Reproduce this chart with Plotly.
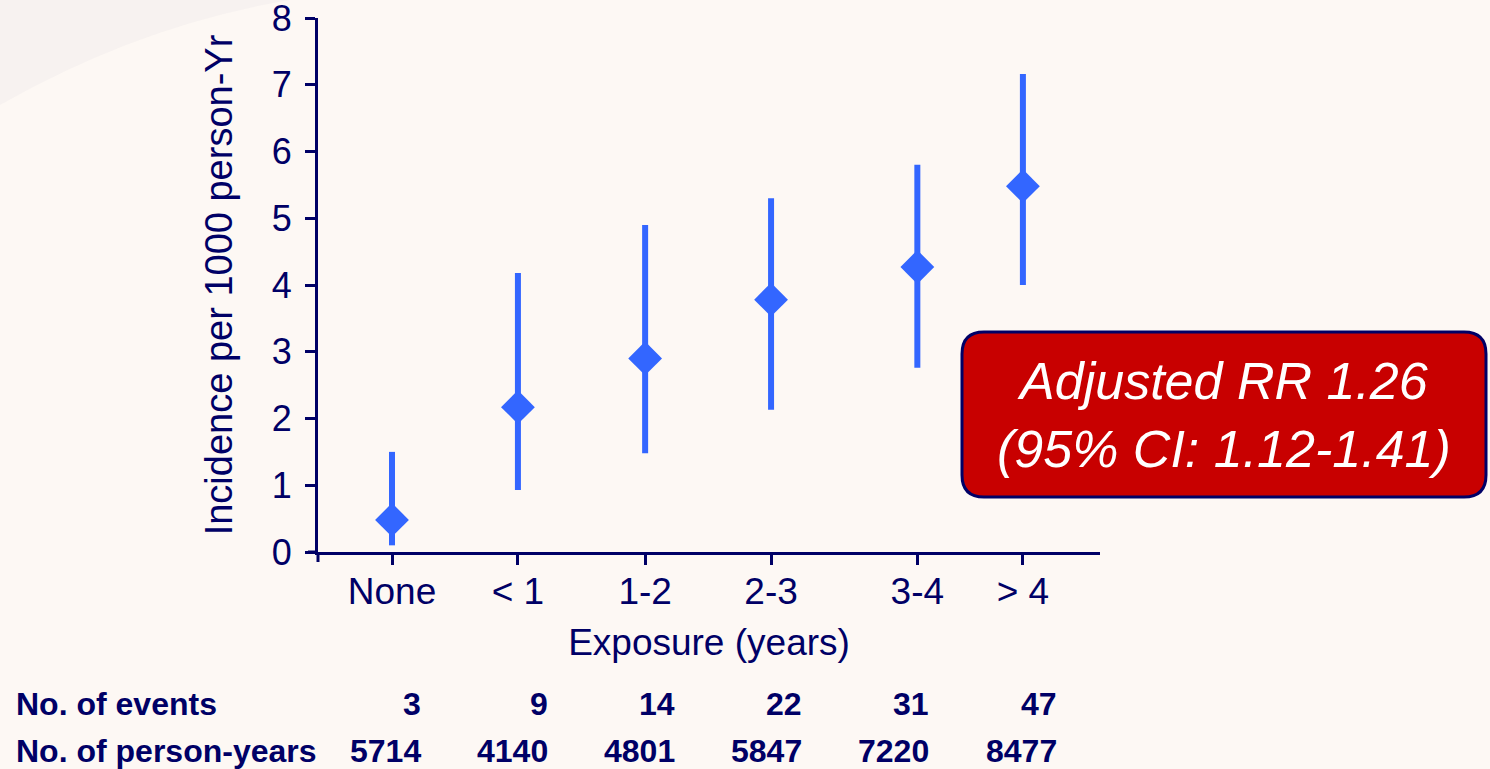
import plotly.graph_objects as go

# ---- data ----
categories = ["None", "< 1", "1-2", "2-3", "3-4", "> 4"]
x_pos = [0, 0.99, 1.99, 2.98, 4.13, 4.96]          # category positions on the exposure axis
incidence = [0.48, 2.17, 2.9, 3.78, 4.27, 5.48]
ci_low = [0.1, 0.93, 1.48, 2.13, 2.76, 4.0]
ci_high = [1.5, 4.18, 4.9, 5.3, 5.8, 7.16]
events = [3, 9, 14, 22, 31, 47]
person_years = [5714, 4140, 4801, 5847, 7220, 8477]
y_ticks = [0, 1, 2, 3, 4, 5, 6, 7, 8]

NAVY = "#000066"
BLUE = "#3366FF"
FONT = "Liberation Sans, Arial, sans-serif"

err_plus = [h - v for h, v in zip(ci_high, incidence)]
err_minus = [v - l for v, l in zip(incidence, ci_low)]

fig = go.Figure()
fig.add_trace(go.Scatter(
    x=x_pos, y=incidence, mode="markers",
    marker=dict(symbol="diamond", size=26, color=BLUE, line=dict(width=0)),
    error_y=dict(type="data", symmetric=False, array=err_plus, arrayminus=err_minus,
                 color=BLUE, thickness=6, width=0),
    cliponaxis=False, showlegend=False, hoverinfo="skip",
))

W, H = 1490, 769
L, R, T, B = 318, 1100, 18, 552
pw, ph = R - L, B - T

def px(xp):
    return (xp - L) / pw

def py(yp):
    return (B - yp) / ph

shapes = []
# faint grey swoosh in the top-left corner of the slide
shapes.append(dict(type="path", xref="paper", yref="paper", layer="below",
                   path=(f"M {px(0)},{py(0)} L {px(290)},{py(0)} "
                         f"Q {px(140)},{py(25)} {px(0)},{py(105)} Z"),
                   fillcolor="rgba(205,205,210,0.12)", line=dict(width=0)))
# axis cross stubs
shapes.append(dict(type="line", xref="paper", yref="paper", x0=px(308), x1=px(318), y0=0, y1=0,
                   line=dict(color=NAVY, width=3)))
shapes.append(dict(type="line", xref="paper", yref="paper", x0=0, x1=0, y0=py(552), y1=py(562),
                   line=dict(color=NAVY, width=3)))

# rounded red box
bx0, bx1, by0, by1 = 962, 1486, 332, 497
r = 22
path = (f"M {px(bx0 + r)},{py(by0)} L {px(bx1 - r)},{py(by0)} "
        f"Q {px(bx1)},{py(by0)} {px(bx1)},{py(by0 + r)} "
        f"L {px(bx1)},{py(by1 - r)} Q {px(bx1)},{py(by1)} {px(bx1 - r)},{py(by1)} "
        f"L {px(bx0 + r)},{py(by1)} Q {px(bx0)},{py(by1)} {px(bx0)},{py(by1 - r)} "
        f"L {px(bx0)},{py(by0 + r)} Q {px(bx0)},{py(by0)} {px(bx0 + r)},{py(by0)} Z")
shapes.append(dict(type="path", xref="paper", yref="paper", path=path,
                   fillcolor="#C80000", line=dict(color=NAVY, width=3)))

annotations = [
    dict(xref="paper", yref="paper", x=px((bx0 + bx1) / 2), y=py((by0 + by1) / 2),
         text="<i>Adjusted RR 1.26<br>(95% CI: 1.12-1.41)</i>", showarrow=False,
         font=dict(family=FONT, size=52, color="white"), align="center",
         xanchor="center", yanchor="middle"),
]

row_y = [py(704), py(751)]
TFONT = dict(family=FONT, size=32, color=NAVY)
annotations.append(dict(xref="paper", yref="paper", x=px(14), y=row_y[0], text="<b>No. of events</b>",
                        showarrow=False, xanchor="left", yanchor="middle", font=TFONT))
annotations.append(dict(xref="paper", yref="paper", x=px(14), y=row_y[1], text="<b>No. of person-years</b>",
                        showarrow=False, xanchor="left", yanchor="middle", font=TFONT))
for i, (ev, pyv) in enumerate(zip(events, person_years)):
    for val, yy in ((ev, row_y[0]), (pyv, row_y[1])):
        annotations.append(dict(xref="x", yref="paper", x=i + 0.24, y=yy, text=f"<b>{val}</b>",
                                showarrow=False, xanchor="right", yanchor="middle", font=TFONT))

fig.update_layout(
    width=W, height=H,
    margin=dict(l=L, r=W - R, t=T, b=H - B, pad=0, autoexpand=False),
    paper_bgcolor="#FDF8F4", plot_bgcolor="rgba(0,0,0,0)",
    font=dict(family=FONT, color=NAVY),
    shapes=shapes, annotations=annotations,
    xaxis=dict(range=[(L - 392) / 127.2, (R - 392) / 127.2], tickmode="array", automargin=False,
               tickvals=x_pos, ticktext=categories, ticks="outside", ticklen=10, tickwidth=3,
               tickcolor=NAVY, showline=True, linecolor=NAVY, linewidth=3, showgrid=False,
               zeroline=False, tickfont=dict(size=37, color=NAVY), ticklabelstandoff=-5,
               title=dict(text="Exposure (years)", font=dict(size=37, color=NAVY), standoff=18)),
    yaxis=dict(range=[0, 8], tickmode="array", tickvals=y_ticks, ticks="outside", ticklen=10,
               automargin=False,
               tickwidth=3, tickcolor=NAVY, showline=True, linecolor=NAVY, linewidth=3,
               showgrid=False, zeroline=False, tickfont=dict(size=36, color=NAVY),
               ticklabelstandoff=6, ticklabeloverflow="allow",
               title=dict(text="Incidence per 1000 person-Yr", font=dict(size=38, color=NAVY), standoff=28)),
)

fig.write_html("out.html", config={"displayModeBar": False},
               post_script="document.body.style.margin='0';document.body.style.background='#FDF8F4';")
